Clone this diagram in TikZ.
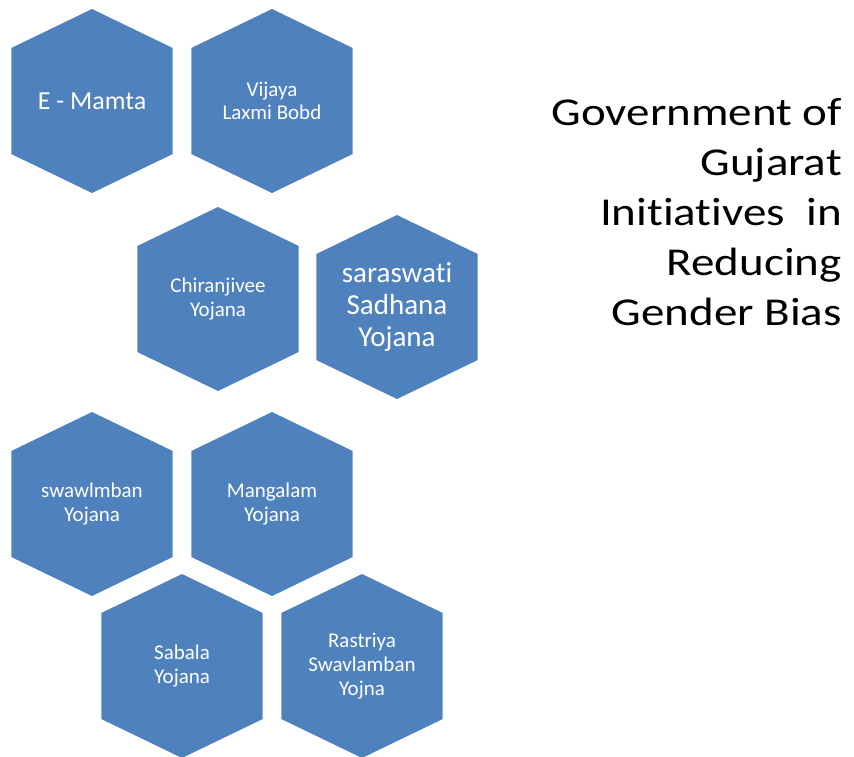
\documentclass[tikz,border=0pt]{standalone}
\usepackage{fontspec}
\setmainfont{Carlito}[Ligatures={NoCommon}]
\newfontfamily\titlefont[FakeStretch=1.19, Ligatures={NoCommon}]{Carlito}
\usepackage{tikz}
\usetikzlibrary{positioning}

\definecolor{hexblue}{RGB}{79,129,189}

% one hexagon tile: [label options]{name}{x}{y}{text}
\newcommand{\hexcell}[5][]{%
    \fill[hexfill] (#3,#4) ++(0,-92) -- ++(80.7,39) -- ++(0,106) -- ++(-80.7,39)
        -- ++(-80.7,-39) -- ++(0,-106) -- cycle;
    \node[hexlabel, #1] (#2) at (#3,#4) {#5};
}

\begin{document}
\begin{tikzpicture}[x=1pt, y=-1pt,
    hexfill/.style={fill=hexblue},
    hexlabel/.style={text=white, align=center, inner sep=0pt,
        font=\fontsize{21}{24}\selectfont},
    title/.style={align=right, inner sep=0pt,
        font=\titlefont\fontsize{39.5}{50}\selectfont}]

    \useasboundingbox (0,0) rectangle (854,756);

    % ==========================================
    % TOP PAIR
    % ==========================================
    \hexcell[font=\fontsize{26}{30}\selectfont]{mamta}{92}{101}{E - Mamta}
    \hexcell[font=\fontsize{21}{23}\selectfont]{vijaya}{272}{101}{Vijaya\\Laxmi Bobd}

    % ==========================================
    % MIDDLE PAIR
    % ==========================================
    \hexcell{chiranjivee}{218}{299}{Chiranjivee\\Yojana}
    \hexcell[font=\fontsize{29}{32}\selectfont]{saraswati}{397}{307}{saraswati\\Sadhana\\Yojana}

    % ==========================================
    % BOTTOM CLUSTER
    % ==========================================
    \hexcell{swawlmban}{92}{504}{swawlmban\\Yojana}
    \hexcell{mangalam}{272}{504}{Mangalam\\Yojana}
    \hexcell{sabala}{182}{666}{Sabala\\Yojana}
    \hexcell{rastriya}{362}{666}{Rastriya\\Swavlamban\\Yojna}

    % Heading on the right
    \node[title, anchor=north east] (title) at (842,98)
        {Government of\\Gujarat\\Initiatives\ \ in\\Reducing\\Gender Bias};

\end{tikzpicture}
\end{document}
